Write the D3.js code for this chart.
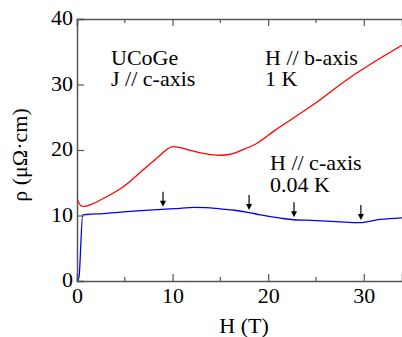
<!DOCTYPE html>
<html>
<head>
<meta charset="utf-8">
<script src="https://cdn.jsdelivr.net/npm/d3@7"></script>
<style>
body { margin: 0; background: #fff; }
svg text { font-family: "Liberation Serif", "Times New Roman", serif; fill: #000; }
</style>
</head>
<body>
<script>
var w = 402;
var h = 337;
var serif = "Liberation Serif";
var fs = "22px";

// H // b-axis, 1 K (red)
var redH = [0.03, 0.4, 0.8, 1.5, 2.75, 4.85, 6.9, 8.7, 9.5, 10.1, 10.8, 11.8, 12.8, 14, 15.2, 16.2, 17.1, 18.8, 20.7, 24.7, 28.2, 31.7, 34];
var redRho = [12.5, 11.5, 11.4, 11.7, 12.6, 14.4, 16.95, 19.2, 20.2, 20.5, 20.35, 19.95, 19.6, 19.3, 19.2, 19.4, 19.9, 21.0, 23.0, 26.9, 30.7, 34.0, 36.0];

// H // c-axis, 0.04 K (blue)
var blueH = [0.05, 0.2, 0.6, 1, 2.75, 6.25, 8.9, 10.8, 12.2, 13.5, 15, 16.5, 18, 19.2, 21.3, 22.65, 24.5, 26.1, 28, 29.6, 31.7, 34];
var blueRho = [0, 0.5, 10.1, 10.15, 10.3, 10.7, 10.95, 11.1, 11.25, 11.2, 11.0, 10.8, 10.45, 10.1, 9.6, 9.35, 9.25, 9.15, 9.0, 8.9, 9.4, 9.65];

// arrows marking anomalies
var arrowH = [9, 18, 22.7, 29.7];
var arrowRho = [11.35, 10.85, 9.75, 9.3];

var xTicks = [0, 10, 20, 30];
var xMinor = [5, 15, 25];
var yTicks = [0, 10, 20, 30, 40];

var x = d3.scaleLinear().domain([0, 34]).range([77, 402]);
var y = d3.scaleLinear().domain([0, 40]).range([281, 19]);

var svg = d3.select("body").append("svg").attr("width", w).attr("height", h);

var redLine = d3.line()
    .x(function (d) { return x(d[0]); })
    .y(function (d) { return y(d[1]); })
    .curve(d3.curveCatmullRom.alpha(0.5));

var blueLine = d3.line()
    .x(function (d) { return x(d[0]); })
    .y(function (d) { return y(d[1]); })
    .curve(d3.curveMonotoneX);

svg.append("path")
    .datum(redH.map(function (v, i) { return [v, redRho[i]]; }))
    .attr("d", redLine)
    .style("fill", "none")
    .style("stroke", "#ff0000")
    .style("stroke-width", 1.3);

svg.append("path")
    .datum(blueH.map(function (v, i) { return [v, blueRho[i]]; }))
    .attr("d", blueLine)
    .style("fill", "none")
    .style("stroke", "#0000ff")
    .style("stroke-width", 1.3);

// arrows
arrowH.forEach(function (a, i) {
    var ax = x(a), ay = y(arrowRho[i]);
    svg.append("line")
        .attr("x1", ax).attr("x2", ax)
        .attr("y1", ay - 15).attr("y2", ay - 4)
        .style("stroke", "#000").style("stroke-width", 1.2);
    svg.append("path")
        .attr("d", "M" + (ax - 3) + "," + (ay - 6) + "L" + (ax + 3) + "," + (ay - 6) + "L" + ax + "," + ay + "Z")
        .style("fill", "#000");
});

// axes
var axisColor = "#555";
var gBottom = svg.append("g").attr("transform", "translate(0," + y(0) + ")")
    .call(d3.axisBottom(x).tickValues(xTicks).tickSize(-7).tickPadding(6).tickFormat(d3.format("d")));
gBottom.append("g").selectAll("line").data(xMinor).enter().append("line")
    .attr("x1", function (d) { return x(d); }).attr("x2", function (d) { return x(d); })
    .attr("y1", 0).attr("y2", -4);

var gTop = svg.append("g").attr("transform", "translate(0," + y(40) + ")")
    .call(d3.axisTop(x).tickValues(xTicks).tickSize(-7).tickFormat(""));
gTop.append("g").selectAll("line").data(xMinor).enter().append("line")
    .attr("x1", function (d) { return x(d); }).attr("x2", function (d) { return x(d); })
    .attr("y1", 0).attr("y2", 4);

var gLeft = svg.append("g").attr("transform", "translate(" + x(0) + ",0)")
    .call(d3.axisLeft(y).tickValues(yTicks).tickSize(-7).tickPadding(4).tickFormat(d3.format("d")));

[gBottom, gTop, gLeft].forEach(function (g) {
    g.attr("font-family", serif).attr("font-size", fs);
    g.select(".domain").style("stroke", axisColor).style("stroke-width", 1.5);
    g.selectAll("line").style("stroke", axisColor).style("stroke-width", 1.2);
    g.selectAll("text").style("font-family", serif).style("font-size", fs).style("fill", "#000");
});
gLeft.selectAll(".tick text").attr("dy", "0.27em");

// labels
function label(t, lx, ly) {
    svg.append("text").attr("x", lx).attr("y", ly)
        .style("font-family", serif).style("font-size", fs).text(t);
}
label("UCoGe", 111, 65);
label("J // c-axis", 111, 86);
label("H // b-axis", 265, 65);
label("1 K", 265, 86);
label("H // c-axis", 270, 170);
label("0.04 K", 270, 192);

svg.append("text")
    .attr("x", 244).attr("y", 333)
    .attr("text-anchor", "middle")
    .style("font-family", serif)
    .style("font-size", fs)
    .text("H (T)");

svg.append("text")
    .attr("transform", "translate(27,155) rotate(-90)")
    .attr("text-anchor", "middle")
    .style("font-family", serif)
    .style("font-size", fs)
    .text("ρ (μΩ·cm)");
</script>
</body>
</html>
